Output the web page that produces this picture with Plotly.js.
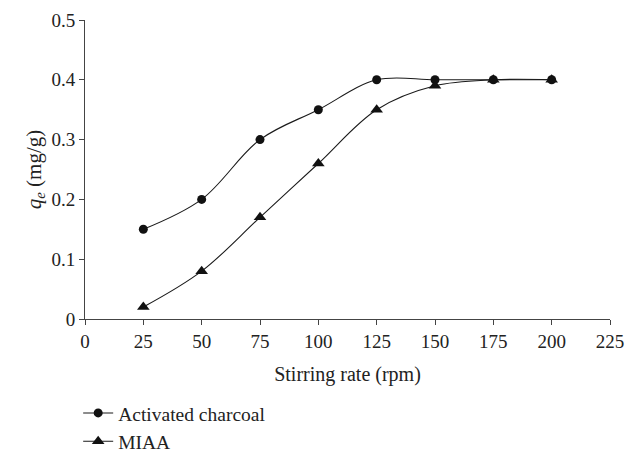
<!DOCTYPE html>
<html>
<head>
<meta charset="utf-8">
<script src="https://cdn.plot.ly/plotly-3.0.1.min.js"></script>
<style>html,body{margin:0;padding:0;background:#fff;}#chart{width:626px;height:453px;}</style>
</head>
<body>
<div id="chart"></div>
<script>
const stirringRate = [25, 50, 75, 100, 125, 150, 175, 200];
const activatedCharcoal = [0.15, 0.20, 0.30, 0.35, 0.40, 0.40, 0.40, 0.40];
const miaa = [0.02, 0.08, 0.17, 0.26, 0.35, 0.39, 0.40, 0.40];
const xTicks = [0, 25, 50, 75, 100, 125, 150, 175, 200, 225];
const yTicks = [0, 0.1, 0.2, 0.3, 0.4, 0.5];
const yTickText = ['0', '0.1', '0.2', '0.3', '0.4', '0.5'];

const fam = '"Liberation Serif", "DejaVu Serif", serif';
const tickFont = {family: fam, size: 19, color: '#222'};
const titleFont = {family: fam, size: 20, color: '#222'};
const legendFont = {family: fam, size: 19.5, color: '#222'};
const yTitleFont = {family: fam, size: 21, color: '#222'};

const traces = [
  {x: stirringRate, y: activatedCharcoal, name: 'Activated charcoal', mode: 'lines+markers',
   line: {shape: 'spline', smoothing: 1, color: '#1a1a1a', width: 1.1},
   marker: {symbol: 'circle', size: 9, color: '#111'}},
  {x: stirringRate, y: miaa, name: 'MIAA', mode: 'lines+markers',
   line: {shape: 'spline', smoothing: 1, color: '#1a1a1a', width: 1.1},
   marker: {symbol: 'triangle-up', size: 11, color: '#111'}}
];

const layout = {
  width: 626, height: 453,
  margin: {l: 85, r: 16, t: 20, b: 134, autoexpand: false},
  paper_bgcolor: '#fff', plot_bgcolor: '#fff',
  font: tickFont,
  showlegend: true,
  legend: {x: -0.013, xanchor: 'left', y: -0.25, yanchor: 'top', font: legendFont, tracegroupgap: 0, itemwidth: 30, bgcolor: 'rgba(0,0,0,0)'},
  xaxis: {
    range: [0, 225], tickvals: xTicks, ticktext: xTicks.map(String),
    showgrid: false, zeroline: false, showline: true, linecolor: '#444', linewidth: 1,
    ticks: 'outside', ticklen: 5, tickcolor: '#444',
    tickfont: tickFont,
    title: {text: 'Stirring rate (rpm)', font: titleFont, standoff: 16}
  },
  yaxis: {
    range: [0, 0.5], tickvals: yTicks, ticktext: yTickText,
    showgrid: false, zeroline: false, showline: true, linecolor: '#444', linewidth: 1,
    ticks: 'outside', ticklen: 5, tickcolor: '#444',
    tickfont: tickFont,
    title: {text: '<i>q</i><sub><i>e</i></sub> (mg/g)', font: yTitleFont, standoff: 4}
  }
};

Plotly.newPlot('chart', traces, layout, {displayModeBar: false, staticPlot: true});
</script>
</body>
</html>
